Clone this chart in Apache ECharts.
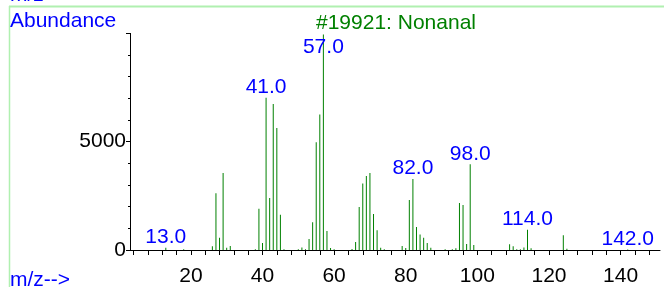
<!DOCTYPE html>
<html>
<head>
<meta charset="utf-8">
<script src="https://cdn.jsdelivr.net/npm/echarts@6/dist/echarts.min.js"></script>
<style>
  html, body { margin: 0; padding: 0; background: #fff; }
  #chart { width: 664px; height: 287px; }
</style>
</head>
<body>
<div id="chart"></div>
<script>
// m/z values and abundances
var mz = [13, 18, 26, 27, 28, 29, 30, 31, 38, 39, 40, 41, 42, 43, 44, 45, 46,
  50, 51, 52, 53, 54, 55, 56, 57, 58, 59, 60, 65, 66, 67, 68, 69, 70, 71, 72, 73, 74,
  79, 80, 81, 82, 83, 84, 85, 86, 87, 91, 93, 94, 95, 96, 97, 98, 99,
  109, 110, 111, 112, 113, 114, 115, 124, 125, 142];
var abundance = [100, 40, 170, 2620, 570, 3550, 100, 190, 30, 1900, 320, 7030, 2400, 6740, 5630, 1630, 40,
  30, 110, 30, 510, 1280, 4970, 6260, 9950, 880, 90, 30, 45, 370, 1990, 3070, 3420, 3550, 1660, 910, 100, 40,
  185, 90, 2310, 3280, 1060, 710, 570, 320, 100, 30, 40, 80, 2170, 2080, 280, 3960, 230,
  260, 170, 40, 40, 110, 940, 80, 680, 60, 20];
var labeledPeaks = [13, 41, 57, 82, 98, 114, 142];
var xLabelValues = [20, 40, 60, 80, 100, 120, 140];
var xTickValues = [4, 8, 12, 16, 20, 24, 28, 32, 36, 40, 44, 48, 52, 56, 60, 64, 68, 72, 76,
  80, 84, 88, 92, 96, 100, 104, 108, 112, 116, 120, 124, 128, 132, 136, 140, 144, 148];
var yMax = 10000;

var FONT = 'Liberation Sans, Arial, sans-serif';
var BLUE = '#0000ff';
var GREEN = '#008000';

var barData = mz.map(function (m, i) {
  var item = { value: [m, abundance[i]] };
  if (labeledPeaks.indexOf(m) >= 0) {
    // the tallest peak's label is kept inside the plot
    var nearTop = abundance[i] > yMax * 0.9;
    item.label = {
      show: true,
      position: nearTop ? 'insideTop' : 'top',
      distance: nearTop ? 2 : 0,
      formatter: m.toFixed(1)
    };
  }
  return item;
});

var myChart = echarts.init(document.getElementById('chart'));
myChart.setOption({
  animation: false,
  grid: {
    left: 130,
    right: 4,
    top: 33.4,
    bottom: 37,
    outerBoundsMode: 'none'
  },
  xAxis: {
    type: 'value',
    min: 3,
    max: 151,
    axisLine: { lineStyle: { color: '#000', width: 1 } },
    axisTick: { show: true, length: 5, customValues: xTickValues, lineStyle: { color: '#000' } },
    axisLabel: {
      customValues: xLabelValues,
      margin: 16,
      color: '#000',
      fontSize: 21,
      fontFamily: FONT
    },
    splitLine: { show: false }
  },
  yAxis: {
    type: 'value',
    min: 0,
    max: yMax,
    interval: 5000,
    axisLine: { show: true, lineStyle: { color: '#000', width: 1 } },
    axisTick: { show: true, length: 4, lineStyle: { color: '#000' } },
    minorTick: { show: true, splitNumber: 5, length: 2, lineStyle: { color: '#000' } },
    axisLabel: {
      margin: 4,
      padding: [4, 0, 0, 0],
      color: '#000',
      fontSize: 21,
      fontFamily: FONT,
      formatter: function (v) { return v === 10000 ? '' : String(v); }
    },
    splitLine: { show: false },
    minorSplitLine: { show: false }
  },
  series: [{
    type: 'bar',
    barWidth: 1,
    itemStyle: { color: GREEN },
    label: {
      color: BLUE,
      fontSize: 21,
      fontFamily: FONT
    },
    data: barData
  }],
  graphic: [
    { type: 'line', silent: true, shape: { x1: 9, y1: 6.5, x2: 664, y2: 6.5 }, style: { stroke: '#b0f0b0', lineWidth: 2 } },
    { type: 'line', silent: true, shape: { x1: 9.5, y1: 6, x2: 9.5, y2: 287 }, style: { stroke: '#b0f0b0', lineWidth: 1.5 } },
    { type: 'text', silent: true, x: 10, y: -4.5, style: { text: 'm/z-->', fill: BLUE, font: '21px ' + FONT, verticalAlign: 'middle', textVerticalAlign: 'middle' } },
    { type: 'text', silent: true, x: 10, y: 21, style: { text: 'Abundance', fill: BLUE, font: '21px ' + FONT, verticalAlign: 'middle', textVerticalAlign: 'middle' } },
    { type: 'text', silent: true, x: 396, y: 23.5, style: { text: '#19921: Nonanal', fill: GREEN, font: '21px ' + FONT, align: 'center', textAlign: 'center', verticalAlign: 'middle', textVerticalAlign: 'middle' } },
    { type: 'text', silent: true, x: 10, y: 280, style: { text: 'm/z-->', fill: BLUE, font: '21px ' + FONT, verticalAlign: 'middle', textVerticalAlign: 'middle' } }
  ]
});
window.addEventListener('resize', function () {
  myChart.resize();
});
</script>
</body>
</html>
